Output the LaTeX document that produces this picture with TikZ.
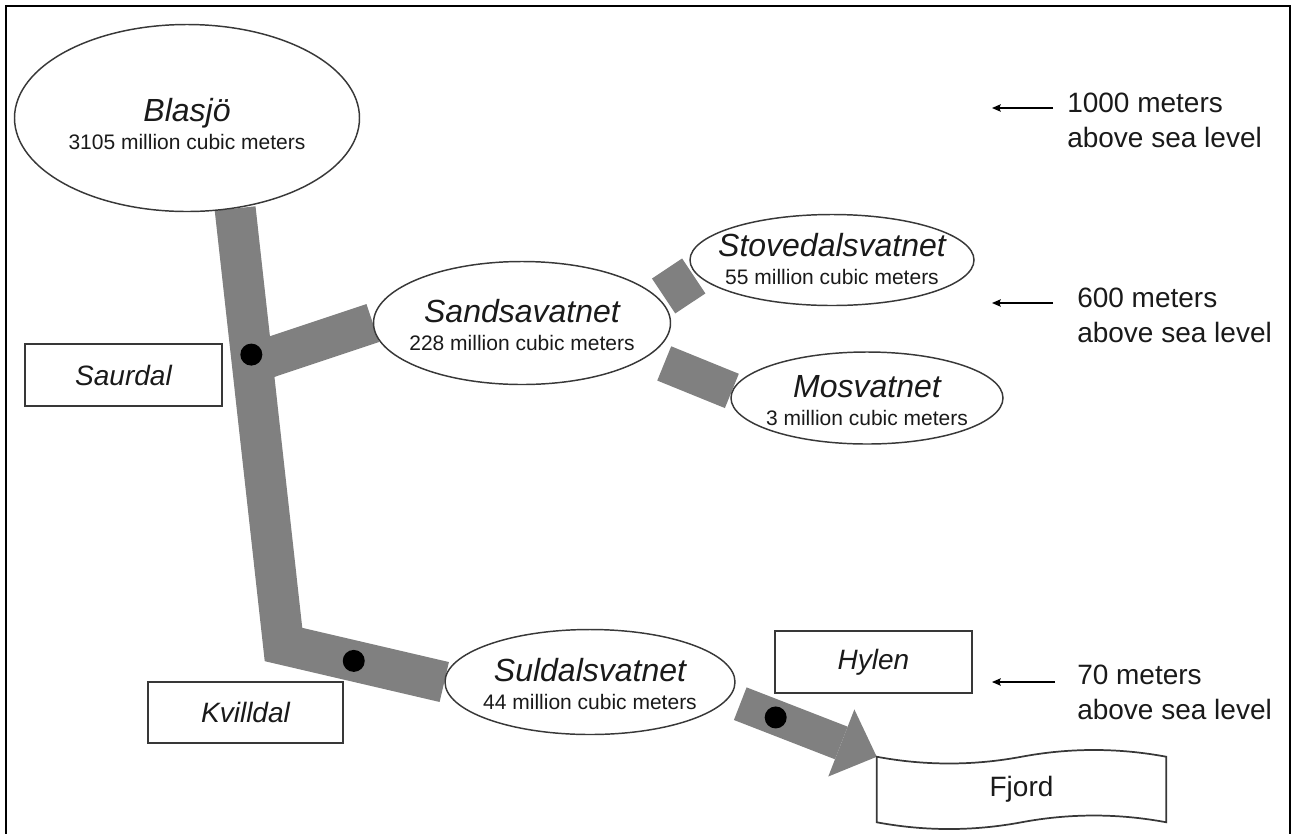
\documentclass[tikz,border=0pt]{standalone}
\usepackage{fontspec}
\setmainfont{Liberation Sans}
\usetikzlibrary{arrows.meta,shapes.geometric,backgrounds}
\definecolor{Ink}{HTML}{1A1A1A}
\definecolor{Rim}{HTML}{383838}
\definecolor{Pipe}{HTML}{808080}

\begin{document}
\begin{tikzpicture}[x=0.75pt,y=-0.75pt,
  lake/.style={ellipse,draw=Rim,line width=1.1pt,fill=white,inner sep=0pt},
  laketext/.style={align=center,inner sep=0pt,text=Ink,font=\fontsize{15.75}{21}\selectfont},
  station/.style={rectangle,draw=Rim,line width=1.3pt,fill=white,inner sep=0pt,text=Ink,font=\fontsize{21}{25}\selectfont\itshape},
  pipe/.style={draw=Pipe,line width=30.75pt,line cap=butt,line join=miter},
  valve/.style={circle,fill=black,inner sep=0pt,minimum size=16.5pt},
  level/.style={anchor=west,align=left,inner sep=0pt,text=Ink,font=\fontsize{21}{26.25}\selectfont},
  lvlarrow/.style={-{Stealth[length=6.5pt,width=5.5pt,inset=1pt]},line width=1.1pt,draw=black}]
\useasboundingbox (0,0) rectangle (1292,833);
\draw[line width=1.6pt] (6,850) -- (6,6) -- (1290,6) -- (1290,850);
\node[lake,minimum width=258.75pt,minimum height=140.25pt] (blasjo) at (187,118) {};
\node[laketext] (blasjoT) at (187,124) {{\fontsize{24}{21}\selectfont\itshape Blasjö}\\3105 million cubic meters};
\node[lake,minimum width=222.75pt,minimum height=92.25pt] (sands) at (522,323) {};
\node[laketext] (sandsT) at (522,325) {{\fontsize{24}{21}\selectfont\itshape Sandsavatnet}\\228 million cubic meters};
\node[lake,minimum width=213pt,minimum height=68.25pt] (stove) at (832,260) {};
\node[laketext] (stoveT) at (832,259) {{\fontsize{24}{21}\selectfont\itshape Stovedalsvatnet}\\55 million cubic meters};
\node[lake,minimum width=204pt,minimum height=69pt] (mos) at (867,398) {};
\node[laketext] (mosT) at (867,401) {{\fontsize{24}{21}\selectfont\itshape Mosvatnet}\\3 million cubic meters};
\node[lake,minimum width=217.5pt,minimum height=78.75pt] (suldal) at (590,682) {};
\node[laketext] (suldalT) at (590,684) {{\fontsize{24}{21}\selectfont\itshape Suldalsvatnet}\\44 million cubic meters};
\node[station,minimum width=147.75pt,minimum height=46.5pt] (saurdal) at (123.5,375) {Saurdal};
\node[station,minimum width=146.25pt,minimum height=45.75pt] (kvilldal) at (245.5,712.5) {Kvilldal};
\node[station,minimum width=147.75pt,minimum height=46.5pt] (hylen) at (873.5,662) {Hylen};
\node[inner sep=0pt,minimum width=216.75pt,minimum height=48.75pt,text=Ink,font=\fontsize{21}{25}\selectfont] (fjord) at (1021.5,789.5) {Fjord};
\draw[draw=Rim,line width=1.3pt] (fjord.north west) .. controls +(48,9) and +(-48,9) .. (fjord.north)
  .. controls +(48,-9) and +(-48,-9) .. (fjord.north east) -- (fjord.south east)
  .. controls +(-48,-9) and +(48,-9) .. (fjord.south)
  .. controls +(-48,9) and +(48,9) .. (fjord.south west) -- cycle;
\coordinate (bend) at (283.5,644.5);
\coordinate (sjoin) at (256,362);
\begin{pgfonlayer}{background}
\draw[pipe] (blasjo.-62) -- (bend) -- (suldal.west);
\draw[pipe,line width=30pt] (sjoin) -- (sands.west);
\draw[pipe,line width=31.5pt,shorten <=3.75pt,shorten >=2.25pt] (sands.10) -- (stove.186);
\draw[pipe,line width=27.75pt,shorten <=13.5pt] (sands.-15) -- (mos.177);
\draw[pipe,line width=26.25pt,shorten <=9.75pt,-{Triangle[length=28.5pt,width=54pt,line width=0pt]}] (suldal.-7) -- (fjord.north west);
\end{pgfonlayer}
\path (blasjo.-62) -- node[valve,pos=0.335] (vSaurdal) {} (bend);
\path (bend) -- node[valve,pos=0.437] (vKvilldal) {} (suldal.west);
\path (suldal.-7) -- node[valve,pos=0.32] (vHylen) {} (fjord.north west);
\node[level] (lvlHigh) at (1067,120.5) {1000 meters\\above sea level};
\coordinate (tipHigh) at (992,108);
\draw[lvlarrow,shorten <=10.5pt] (tipHigh -| lvlHigh.west) -- (tipHigh);
\node[level] (lvlMid) at (1077,315.5) {600 meters\\above sea level};
\coordinate (tipMid) at (992,303);
\draw[lvlarrow,shorten <=18pt] (tipMid -| lvlMid.west) -- (tipMid);
\node[level] (lvlLow) at (1077,692.5) {70 meters\\above sea level};
\coordinate (tipLow) at (992,682);
\draw[lvlarrow,shorten <=16.5pt] (tipLow -| lvlLow.west) -- (tipLow);
\end{tikzpicture}
\end{document}
